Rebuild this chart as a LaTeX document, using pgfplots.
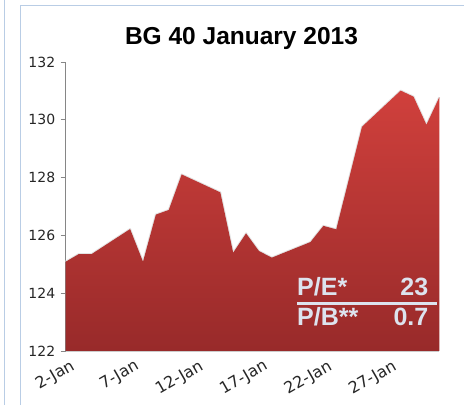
\documentclass[border=0pt]{standalone}
\usepackage{pgfplots}
\pgfplotsset{compat=1.18}
\usepackage{fontspec}
\setmainfont{DejaVu Sans}
\newfontfamily\titlefont{Liberation Sans}
\newfontfamily\tickfont{DejaVu Sans}
\definecolor{atop}{RGB}{208,64,60}
\definecolor{abot}{RGB}{152,42,42}
\definecolor{framec}{RGB}{185,205,229}
\definecolor{pecol}{RGB}{221,227,238}
\definecolor{axgray}{RGB}{134,134,134}
\begin{document}
\begin{tikzpicture}[x=1pt,y=1pt]
\path[use as bounding box] (0,0) rectangle (464,405);
% frames
\draw[framec, line width=1pt] (4,0) -- (4,405);
\draw[framec, line width=1pt] (20.5,0) -- (20.5,399.5) -- (464,399.5);
\begin{axis}[
  at={(65.7pt,54pt)}, anchor=south west,
  scale only axis, width=373.6pt, height=289pt,
  xmin=2, xmax=31, ymin=122, ymax=132,
  axis x line=bottom, axis y line=left,
  axis line style={-, axgray, line width=0.8pt},
  x axis line style={draw=gray!40},
  ytick={122,124,...,132},
  xtick={2,7,12,17,22,27},
  xticklabels={2-Jan,7-Jan,12-Jan,17-Jan,22-Jan,27-Jan},
  x tick style={draw=none},
  y tick style={axgray, line width=0.8pt},
  tick align=outside, major tick length=5pt,
  /pgf/number format/assume math mode=true,
  yticklabel style={font=\tickfont\fontsize{14}{16}\selectfont, color=black!85, xshift=-2pt},
  xticklabel style={font=\tickfont\fontsize{16}{18}\selectfont, color=black!85, rotate=30, anchor=north east, inner sep=0pt, yshift=-4pt, xshift=2pt},
  clip=false,
]
\addplot[draw=gray!22, line width=2pt, line join=round] coordinates {
(2,125.09) (3,125.35) (4,125.35) (7,126.22) (8,125.09) (9,126.72) (10,126.88)
(11,128.11) (14,127.49) (15,125.40) (16,126.07) (17,125.46) (18,125.23)
(21,125.77) (22,126.33) (23,126.21) (24,127.98) (25,129.76) (28,131.01)
(29,130.80) (30,129.83) (31,130.78)};
\addplot[draw=none, top color=atop, bottom color=abot] coordinates {
(2,125.09) (3,125.35) (4,125.35) (7,126.22) (8,125.09) (9,126.72) (10,126.88)
(11,128.11) (14,127.49) (15,125.40) (16,126.07) (17,125.46) (18,125.23)
(21,125.77) (22,126.33) (23,126.21) (24,127.98) (25,129.76) (28,131.01)
(29,130.80) (30,129.83) (31,130.78)} \closedcycle;
\end{axis}
% title
\node[anchor=base, inner sep=0pt, font=\titlefont\bfseries\fontsize{24.5}{29}\selectfont] at (241.5,360) {BG 40 January 2013};
% P/E box
\begin{scope}[every node/.style={inner sep=0pt, text=pecol, font=\titlefont\bfseries\fontsize{25}{29}\selectfont}]
\node[anchor=base west] at (297,109) {P/E*};
\node[anchor=base east] at (428.5,109) {23};
\draw[pecol, line width=2.7pt] (297,101.7) -- (437,101.7);
\node[anchor=base west] at (297,79) {P/B**};
\node[anchor=base east] at (428.5,79) {0.7};
\end{scope}
\end{tikzpicture}
\end{document}
